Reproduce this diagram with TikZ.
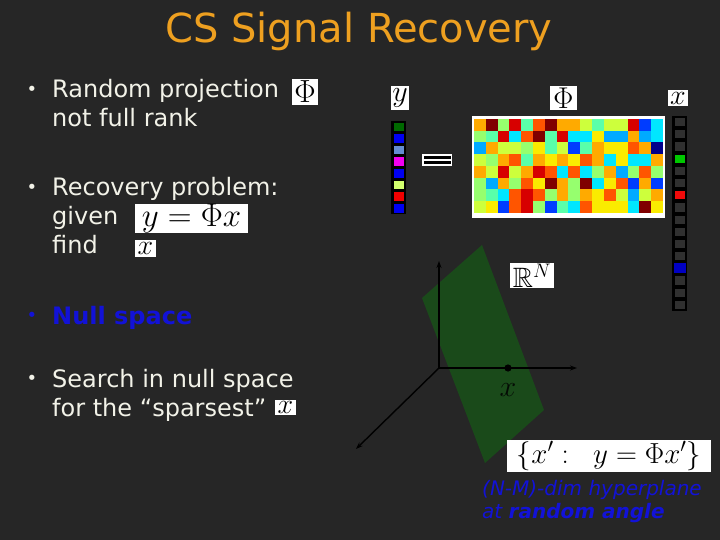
\RequirePackage{fix-cm}
\documentclass[tikz,border=0pt]{standalone}
\usepackage{amssymb}
\usepackage{fontspec}
\setmainfont{DejaVu Sans}
\usetikzlibrary{arrows.meta}
\definecolor{bg}{RGB}{38,38,38}
\definecolor{titlec}{RGB}{238,160,32}
\definecolor{txt}{RGB}{242,242,232}
\definecolor{blu}{RGB}{18,18,215}
\definecolor{plane}{RGB}{26,74,26}
\definecolor{mDR}{RGB}{128,0,0}
\definecolor{mR}{RGB}{215,0,0}
\definecolor{mOR}{RGB}{255,85,0}
\definecolor{mO}{RGB}{255,170,0}
\definecolor{mY}{RGB}{250,235,0}
\definecolor{mYG}{RGB}{205,255,60}
\definecolor{mLG}{RGB}{150,255,110}
\definecolor{mAQ}{RGB}{90,255,170}
\definecolor{mC}{RGB}{0,230,255}
\definecolor{mSB}{RGB}{0,170,255}
\definecolor{mB}{RGB}{0,60,255}
\definecolor{mDB}{RGB}{0,0,140}
\definecolor{cellgray}{RGB}{48,48,48}
\definecolor{yDG}{RGB}{0,105,0}
\definecolor{yB}{RGB}{0,0,240}
\definecolor{ySt}{RGB}{100,140,210}
\definecolor{yM}{RGB}{240,0,240}
\definecolor{yL}{RGB}{210,255,110}
\definecolor{yR}{RGB}{240,0,0}
\definecolor{xg}{RGB}{0,200,0}
\definecolor{xr}{RGB}{240,10,10}
\definecolor{xb}{RGB}{0,0,195}
\tikzset{
  mbox/.style={fill=white,text=black,inner sep=0pt},
  body/.style={text=txt,anchor=base west,inner sep=0pt,font=\fontsize{24}{28}\selectfont},
  bul/.style={text=txt,inner sep=0pt,font=\fontsize{18}{18}\selectfont},
  axis/.style={black,line width=1.4pt,-{Stealth[length=7pt,width=5pt]}},
  bluetxt/.style={text=blu,anchor=base west,inner sep=0pt,font=\fontsize{20}{24}\selectfont\itshape}
}
\begin{document}
\begin{tikzpicture}[x=1pt,y=-1pt]
\fill[bg] (0,0) rectangle (720,540);
\useasboundingbox (0,0) rectangle (720,540);
% title
\node[text=titlec,anchor=base,inner sep=0pt,font=\fontsize{40}{40}\selectfont] (title) at (359,43) {CS Signal Recovery};
% bullets
\node[bul] (b1) at (32,91) {•};
\node[body] (t1a) at (52,98) {Random projection};
\node[body] (t1b) at (52,127) {not full rank};
\node[mbox,minimum width=26,minimum height=26] (phiL) at (305,92) {\fontsize{32}{32}\selectfont$\Phi$};
\node[bul] (b2) at (32,189) {•};
\node[body] (t2a) at (52,196) {Recovery problem:};
\node[body] (t2b) at (52,225) {given};
\node[body] (t2c) at (52,253) {find};
\node[mbox,minimum width=113,minimum height=29] (eq) at (191.5,218.5) {\fontsize{33}{33}\selectfont$y = \Phi x$};
\node[mbox,minimum width=21,minimum height=17] (xfind) at (145.5,248.5) {\fontsize{28}{28}\selectfont$x$};
\node[bul,text=blu] (b3) at (32,317) {•};
\node[body,text=blu,font=\fontsize{24}{28}\selectfont\bfseries] (t3) at (52,324) {Null space};
\node[bul] (b4) at (32,380) {•};
\node[body] (t4a) at (52,387) {Search in null space};
\node[body] (t4b) at (52,416) {for the “sparsest”};
\node[mbox,minimum width=21,minimum height=15] (xsp) at (285.5,407.5) {\fontsize{28}{28}\selectfont$x$};
% labels above vectors
\node[mbox,minimum width=18,minimum height=24] (ylab) at (400,98) {\fontsize{30}{30}\selectfont$y$};
\node[mbox,minimum width=27,minimum height=24] (philab) at (563.5,98) {\fontsize{30}{30}\selectfont$\Phi$};
\node[mbox,minimum width=20,minimum height=16] (xlab) at (678,98) {\fontsize{28}{28}\selectfont$x$};
% y vector
\fill[black] (391,121) rectangle (406,214);
\foreach \c [count=\k from 0] in {yDG,yB,ySt,yM,yB,yL,yR,yB}{
  \fill[\c] (393.5,{121+\k*11.625+1.6}) rectangle ++(10,8.6);
}
% equals sign
\fill[white] (422,154) rectangle (452,166);
\fill[black] (423.5,156) rectangle (450.5,158.7);
\fill[black] (423.5,161.3) rectangle (450.5,164);
% matrix
\fill[white] (472,116) rectangle (665,218);
\foreach \row [count=\j from 0] in {
  {O,DR,LG,R,AQ,OR,DR,O,O,YG,AQ,YG,YG,R,B,C},
  {LG,AQ,R,C,OR,DR,AQ,R,C,C,Y,SB,SB,O,SB,C},
  {SB,O,YG,YG,LG,Y,AQ,YG,B,AQ,O,Y,Y,OR,O,DB},
  {YG,LG,O,OR,AQ,O,Y,O,Y,OR,O,C,Y,C,C,O},
  {O,YG,R,YG,O,R,OR,C,OR,C,LG,O,SB,LG,OR,LG},
  {LG,SB,O,LG,OR,Y,DR,O,LG,DR,C,Y,OR,B,O,B},
  {LG,AQ,C,OR,R,OR,LG,O,LG,O,Y,OR,YG,SB,YG,O},
  {YG,Y,B,OR,R,LG,B,AQ,C,OR,Y,Y,Y,C,DR,Y}}{
  \foreach \c [count=\i from 0] in \row {
    \fill[m\c] ({474+\i*11.81},{119+\j*11.75}) rectangle ++(11.85,11.8);
  }
}
% x vector
\fill[black] (672,116) rectangle (687,311);
\foreach \k in {0,...,15}{
  \fill[cellgray] (674.5,{116+\k*12.19+2}) rectangle ++(10,8.2);
}
\fill[xg] (674.5,{116+3*12.19+2}) rectangle ++(10,8.2);
\fill[xr] (674.5,{116+6*12.19+2}) rectangle ++(10,8.2);
\fill[xb] (673.5,{116+12*12.19+1}) rectangle ++(12,10.2);
% plane and axes
\fill[plane] (482,245) -- (422,298) -- (485,463) -- (544,410) -- cycle;
\coordinate (O) at (439,368);
\coordinate (up) at (439,261);
\coordinate (right) at (577,368);
\coordinate (dl) at (356,449);
\draw[axis] (O) -- (up);
\draw[axis] (O) -- (right);
\draw[axis] (O) -- (dl);
\fill[black] (508,368) circle (3.6);
\node[text=black!85!plane,inner sep=0pt] (xpt) at (508,390) {\fontsize{30}{30}\selectfont$x$};
\node[mbox,minimum width=44,minimum height=25] (RN) at (532,275.5) {\fontsize{28}{28}\selectfont$\mathbb{R}^N$};
\node[mbox,minimum width=204,minimum height=32] (set) at (609,456) {\fontsize{29}{29}\selectfont$\{x' :\;\; y = \Phi x'\}$};
\node[bluetxt] (h1) at (482,495) {(N-M)-dim hyperplane};
\node[bluetxt] (h2) at (482,518) {at \textbf{random angle}};
\end{tikzpicture}
\end{document}
